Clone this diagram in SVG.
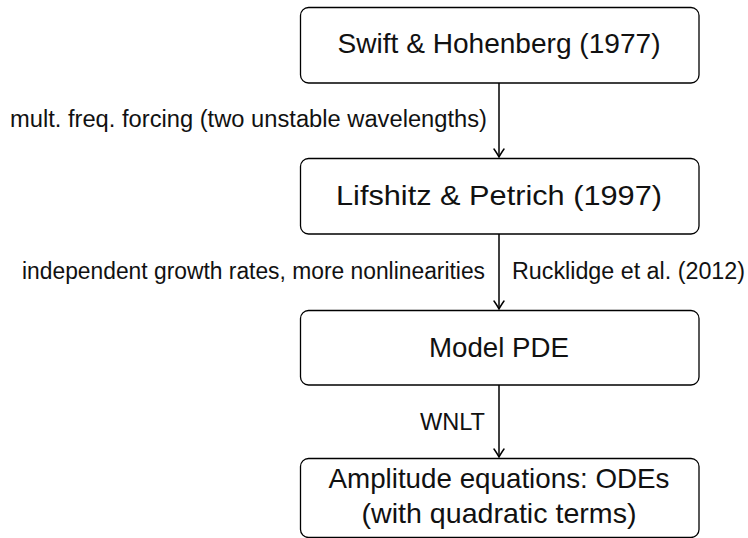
<svg xmlns="http://www.w3.org/2000/svg" width="748" height="538" viewBox="0 0 748 538">
<defs>
<style>
.box{fill:#fff;stroke:#000;stroke-width:1.3}
.t{font-family:"Liberation Sans",Arial,sans-serif;font-size:28px;fill:#111;text-anchor:middle}
.l{font-family:"Liberation Sans",Arial,sans-serif;font-size:23px;fill:#111}
.c{stroke:#000;stroke-width:1.5;fill:none}
</style>
<marker id="arr" markerUnits="userSpaceOnUse" markerWidth="14" markerHeight="14" viewBox="-10 -7 12 14" refX="0" refY="0" orient="auto">
<path d="M-8,-5 Q-2.5,-1.2 0,0 Q-2.5,1.2 -8,5" fill="none" stroke="#000" stroke-width="1.5" stroke-linecap="round"/>
</marker>
</defs>
<rect width="748" height="538" fill="#fff"/>
<g id="connectors">
<line class="c" x1="499" y1="83" x2="499" y2="157" marker-end="url(#arr)"/>
<line class="c" x1="499" y1="234" x2="499" y2="309" marker-end="url(#arr)"/>
<line class="c" x1="499" y1="385" x2="499" y2="457" marker-end="url(#arr)"/>
<text class="l" x="487" y="127" text-anchor="end" textLength="477" lengthAdjust="spacingAndGlyphs">mult.  freq.  forcing (two unstable wavelengths)</text>
<text class="l" x="485" y="279" text-anchor="end" textLength="463" lengthAdjust="spacingAndGlyphs">independent growth rates, more nonlinearities</text>
<text class="l" x="512" y="279" textLength="233" lengthAdjust="spacingAndGlyphs">Rucklidge et al. (2012)</text>
<text class="l" x="485" y="430" text-anchor="end" textLength="65" lengthAdjust="spacingAndGlyphs">WNLT</text>
</g>
<g id="swift">
<rect class="box" x="300.5" y="7.5" width="398.5" height="75.5" rx="8"/>
<text class="t" x="499" y="53" textLength="323" lengthAdjust="spacingAndGlyphs">Swift &amp; Hohenberg (1977)</text>
</g>
<g id="lifshitz">
<rect class="box" x="300.5" y="158.5" width="398.5" height="75.5" rx="8"/>
<text class="t" x="499" y="205" textLength="326" lengthAdjust="spacingAndGlyphs">Lifshitz &amp; Petrich (1997)</text>
</g>
<g id="model">
<rect class="box" x="300.5" y="310.5" width="398.5" height="74.5" rx="8"/>
<text class="t" x="499" y="357" textLength="140" lengthAdjust="spacingAndGlyphs">Model PDE</text>
</g>
<g id="amplitude">
<rect class="box" x="300.5" y="458.5" width="398.5" height="79" rx="8"/>
<text class="t" x="499" y="488" textLength="341" lengthAdjust="spacingAndGlyphs">Amplitude equations:  ODEs</text>
<text class="t" x="499" y="523" textLength="275" lengthAdjust="spacingAndGlyphs">(with quadratic terms)</text>
</g>
</svg>
